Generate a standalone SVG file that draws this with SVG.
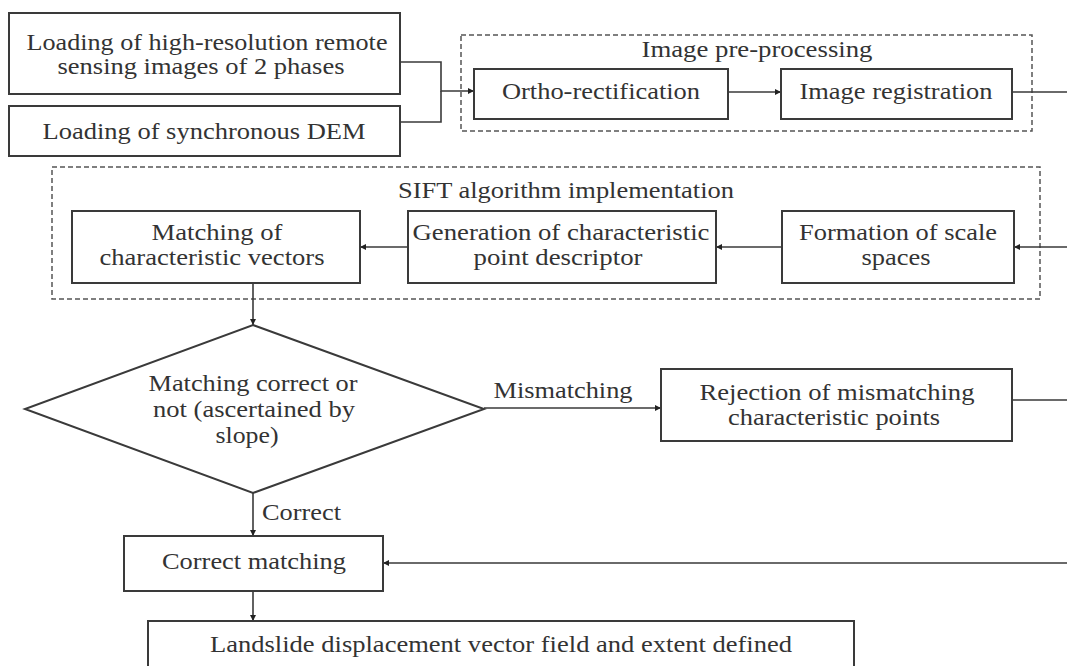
<svg xmlns="http://www.w3.org/2000/svg" width="1067" height="666" viewBox="0 0 1067 666">
<style>
  .box { fill: #fff; stroke: #3a3a3a; stroke-width: 2; }
  .grp { fill: none; stroke: #555; stroke-width: 1.5; stroke-dasharray: 5 3; }
  .ln { fill: none; stroke: #3a3a3a; stroke-width: 1.6; }
  .t { font-family: 'Times New Roman', 'Liberation Serif', Tinos, Times, serif; font-size: 23px; fill: #333; text-anchor: middle; }
  .tl { font-family: 'Times New Roman', 'Liberation Serif', Tinos, Times, serif; font-size: 23px; fill: #333; text-anchor: start; }
</style>
<defs>
  <marker id="arr" viewBox="0 0 10 10" refX="10" refY="5" markerWidth="9" markerHeight="6" markerUnits="userSpaceOnUse" orient="auto">
    <path d="M0,0 L10,5 L0,10 Z" fill="#222"/>
  </marker>
</defs>
<rect width="1067" height="666" fill="#fff"/>

<g id="group-preprocessing">
  <rect class="grp" x="461" y="35" width="571" height="96"/>
  <text class="t" x="757" y="57" textLength="231" lengthAdjust="spacingAndGlyphs">Image pre-processing</text>
</g>
<g id="group-sift">
  <rect class="grp" x="52" y="167" width="988" height="132"/>
  <text class="t" x="566" y="198" textLength="336" lengthAdjust="spacingAndGlyphs">SIFT algorithm implementation</text>
</g>

<g id="connectors">
  <path class="ln" d="M400,62 H441 V91 H474" marker-end="url(#arr)"/>
  <path class="ln" d="M400,122 H441 V91"/>
  <path class="ln" d="M728,92 H781" marker-end="url(#arr)"/>
  <path class="ln" d="M1012,92 H1075 V247 H1014" marker-end="url(#arr)"/>
  <path class="ln" d="M782,247 H716" marker-end="url(#arr)"/>
  <path class="ln" d="M408,247 H360" marker-end="url(#arr)"/>
  <path class="ln" d="M253,283 V325" marker-end="url(#arr)"/>
  <path class="ln" d="M484,408 H661" marker-end="url(#arr)"/>
  <text class="t" x="563" y="398" textLength="139" lengthAdjust="spacingAndGlyphs">Mismatching</text>
  <path class="ln" d="M1012,400 H1075 V563 H383" marker-end="url(#arr)"/>
  <path class="ln" d="M253,493 V536" marker-end="url(#arr)"/>
  <text class="tl" x="262" y="520" textLength="79" lengthAdjust="spacingAndGlyphs">Correct</text>
  <path class="ln" d="M253,591 V621" marker-end="url(#arr)"/>
</g>

<g id="n-load-images">
  <rect class="box" x="9" y="13" width="391" height="81"/>
  <text class="t" x="207" y="50" textLength="361" lengthAdjust="spacingAndGlyphs">Loading of high-resolution remote</text>
  <text class="t" x="201" y="74" textLength="287" lengthAdjust="spacingAndGlyphs">sensing images of 2 phases</text>
</g>
<g id="n-load-dem">
  <rect class="box" x="9" y="106" width="391" height="50"/>
  <text class="t" x="204" y="139" textLength="323" lengthAdjust="spacingAndGlyphs">Loading of synchronous DEM</text>
</g>
<g id="n-ortho">
  <rect class="box" x="474" y="69" width="254" height="50"/>
  <text class="t" x="601" y="99" textLength="198" lengthAdjust="spacingAndGlyphs">Ortho-rectification</text>
</g>
<g id="n-registration">
  <rect class="box" x="781" y="69" width="231" height="50"/>
  <text class="t" x="896" y="99" textLength="193" lengthAdjust="spacingAndGlyphs">Image registration</text>
</g>
<g id="n-matching-vectors">
  <rect class="box" x="72" y="211" width="288" height="72"/>
  <text class="t" x="217" y="240" textLength="131" lengthAdjust="spacingAndGlyphs">Matching of</text>
  <text class="t" x="212" y="265" textLength="225" lengthAdjust="spacingAndGlyphs">characteristic vectors</text>
</g>
<g id="n-generation">
  <rect class="box" x="408" y="211" width="308" height="72"/>
  <text class="t" x="561" y="240" textLength="297" lengthAdjust="spacingAndGlyphs">Generation of characteristic</text>
  <text class="t" x="558" y="265" textLength="169" lengthAdjust="spacingAndGlyphs">point descriptor</text>
</g>
<g id="n-formation">
  <rect class="box" x="782" y="211" width="232" height="72"/>
  <text class="t" x="898" y="240" textLength="198" lengthAdjust="spacingAndGlyphs">Formation of scale</text>
  <text class="t" x="896" y="265" textLength="69" lengthAdjust="spacingAndGlyphs">spaces</text>
</g>
<g id="n-decision">
  <polygon class="box" points="253,325 484,409 253,493 25,409"/>
  <text class="t" x="253" y="391" textLength="209" lengthAdjust="spacingAndGlyphs">Matching correct or</text>
  <text class="t" x="254" y="417" textLength="202" lengthAdjust="spacingAndGlyphs">not (ascertained by</text>
  <text class="t" x="247" y="443" textLength="63" lengthAdjust="spacingAndGlyphs">slope)</text>
</g>
<g id="n-rejection">
  <rect class="box" x="661" y="369" width="351" height="72"/>
  <text class="t" x="837" y="400" textLength="275" lengthAdjust="spacingAndGlyphs">Rejection of mismatching</text>
  <text class="t" x="834" y="425" textLength="212" lengthAdjust="spacingAndGlyphs">characteristic points</text>
</g>
<g id="n-correct-matching">
  <rect class="box" x="124" y="536" width="259" height="55"/>
  <text class="t" x="254" y="569" textLength="184" lengthAdjust="spacingAndGlyphs">Correct matching</text>
</g>
<g id="n-landslide">
  <rect class="box" x="148" y="621" width="706" height="70"/>
  <text class="t" x="501" y="652" textLength="582" lengthAdjust="spacingAndGlyphs">Landslide displacement vector field and extent defined</text>
</g>
</svg>
